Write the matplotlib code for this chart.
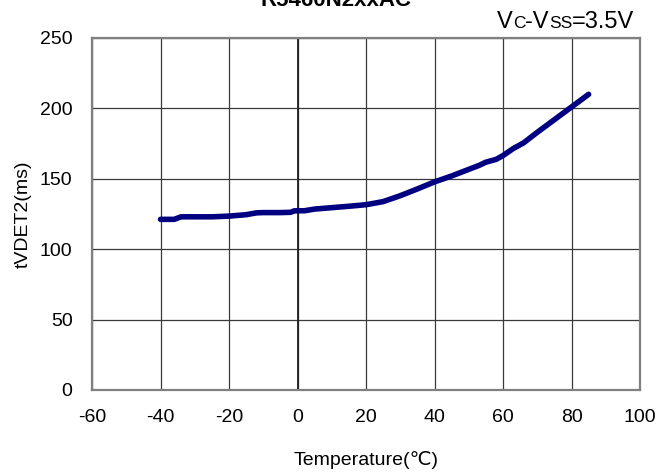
import matplotlib
matplotlib.use('Agg')
from matplotlib import pyplot as plt

plt.rcParams['font.family'] = ['Liberation Sans', 'DejaVu Sans']
plt.rcParams['axes.unicode_minus'] = False

# temperature (degC) vs detector delay time tVDET2 (ms)
temperature = [-40, -36, -34, -30, -25, -20, -15, -12, -10, -5, -2, -1, 0, 2, 5,
               10, 15, 20, 25, 30, 35, 40, 45, 50, 53, 55, 58, 60, 63, 66,
               70, 75, 80, 85]
t_vdet2 = [121.2, 121.2, 123.0, 123.0, 123.0, 123.5, 124.5, 125.8, 126.0, 126.0, 126.2, 127.2, 127.3, 127.3, 128.5,
           129.5, 130.5, 131.6, 133.8, 138.0, 142.8, 147.8, 152.0, 156.7, 159.5, 161.8, 163.8, 166.5, 171.5, 175.5,
           183.0, 192.0, 201.0, 210.0]

x_ticks = [-60, -40, -20, 0, 20, 40, 60, 80, 100]
y_ticks = [0, 50, 100, 150, 200, 250]

fig = plt.figure(figsize=(6.59, 4.76), dpi=100)
ax = fig.add_axes([92 / 659, 86 / 476, 548 / 659, 352 / 476])

ax.plot(temperature, t_vdet2, color='#000080', linewidth=4.0, solid_capstyle='round',
        solid_joinstyle='round', zorder=3)

ax.set_xlim(-60, 100)
ax.set_ylim(0, 250)
ax.set_xticks(x_ticks)
ax.set_yticks(y_ticks)
ax.grid(True, color='#3a3a3a', linewidth=0.9)
ax.axvline(0, color='#202020', linewidth=1.3, zorder=2)
ax.tick_params(length=0, labelsize=14)
ax.tick_params(axis='x', pad=14)
ax.tick_params(axis='y', pad=14)
for sp in ax.spines.values():
    sp.set_color('#808080')
    sp.set_linewidth(1.6)

ax.set_xlabel('Temperature(℃)', fontsize=14, labelpad=18)
ax.set_ylabel('tVDET2(ms)', fontsize=14, labelpad=6)

# title is clipped at the top edge in the reference
fig.text(0.51, 1.0 - 0 / 476, 'R5460N2xxAC', ha='center', va='center',
         fontsize=16, fontweight='bold')

# "Vc-Vss=3.5V" with small-cap subscripts, built from pieces
pieces = [('V', 17), ('C', 12.5), ('-V', 17), ('SS', 12.5), ('=3.5V', 17)]
fig.canvas.draw()
renderer = fig.canvas.get_renderer()
x = 497 / 659
y = (476 - 28) / 476
for s, fs in pieces:
    t = fig.text(x, y, s, fontsize=fs, ha='left', va='baseline')
    bb = t.get_window_extent(renderer)
    x = x + bb.width / 659

fig.savefig('out.png', dpi=100)
